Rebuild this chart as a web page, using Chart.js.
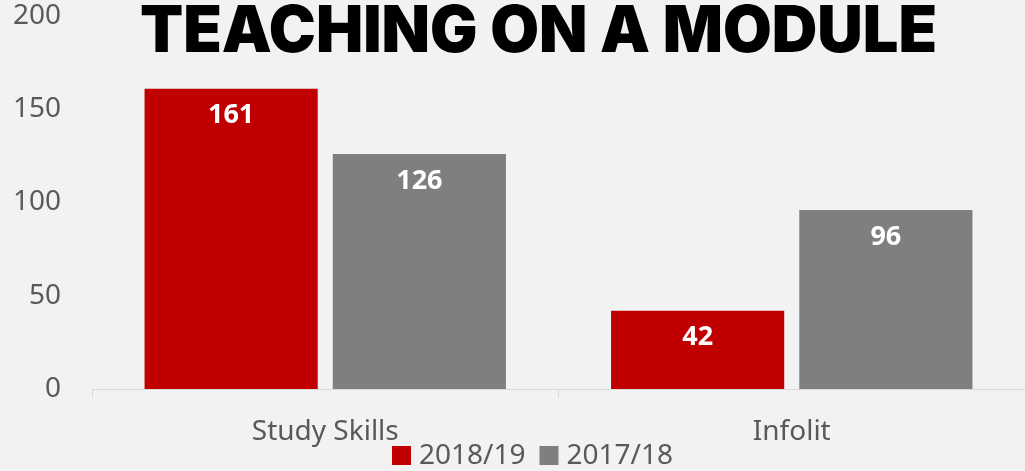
<!DOCTYPE html>
<html>
<head>
<meta charset="utf-8">
<script src="https://cdn.jsdelivr.net/npm/chart.js@4"></script>
<style>
html,body{margin:0;padding:0;background:#f2f2f2;}
#wrap{width:1025px;height:471px;position:relative;}
</style>
</head>
<body>
<div id="wrap"><canvas id="c" width="1025" height="471"></canvas></div>
<script>
const categories = ["Study Skills", "Infolit"];
const series2018 = [161, 42];
const series2017 = [126, 96];
const seriesNames = ["2018/19", "2017/18"];
const yTicks = [0, 50, 100, 150, 200];
const titleText = "TEACHING ON A MODULE";

const FONT = '"Noto Sans"';
const TEXT_COLOR = '#595959';

const bg = {
  id: 'bg',
  beforeDraw(chart) {
    const ctx = chart.ctx;
    ctx.save();
    ctx.fillStyle = '#f2f2f2';
    ctx.fillRect(0, 0, chart.width, chart.height);
    ctx.restore();
  }
};

const titlePlugin = {
  id: 'titleP',
  afterDraw(chart) {
    const ctx = chart.ctx;
    ctx.save();
    ctx.font = '900 64px Inter';
    ctx.fillStyle = '#000000';
    ctx.textAlign = 'center';
    ctx.textBaseline = 'alphabetic';
    ctx.fillText(titleText, 538.5, 52, 797);
    ctx.restore();
  }
};

const labelsPlugin = {
  id: 'vlabels',
  afterDatasetsDraw(chart) {
    const ctx = chart.ctx;
    ctx.save();
    ctx.font = 'bold 27px ' + FONT;
    ctx.fillStyle = '#ffffff';
    ctx.textAlign = 'center';
    ctx.textBaseline = 'middle';
    chart.data.datasets.forEach((ds, di) => {
      const meta = chart.getDatasetMeta(di);
      meta.data.forEach((bar, i) => {
        ctx.fillText(String(ds.data[i]), bar.x, bar.y + 27);
      });
    });
    ctx.restore();
  }
};

const customLegend = {
  id: 'customLegend',
  afterDraw(chart) {
    const ctx = chart.ctx;
    ctx.save();
    ctx.font = '28px ' + FONT;
    ctx.textBaseline = 'alphabetic';
    ctx.textAlign = 'left';
    const box = 19, gapBox = 8, gapItem = 14;
    const items = chart.data.datasets.map(ds => ({ text: ds.label, color: ds.backgroundColor, w: ctx.measureText(ds.label).width }));
    let total = 0;
    items.forEach((it, i) => { total += box + gapBox + it.w + (i < items.length - 1 ? gapItem : 0); });
    let x = 532.5 - total / 2;
    const baseline = 464;
    items.forEach(it => {
      ctx.fillStyle = it.color;
      ctx.fillRect(x, 446, box, box);
      x += box + gapBox;
      ctx.fillStyle = TEXT_COLOR;
      ctx.fillText(it.text, x, baseline);
      x += it.w + gapItem;
    });
    ctx.restore();
  }
};

new Chart(document.getElementById('c'), {
  type: 'bar',
  data: {
    labels: categories,
    datasets: [
      { label: seriesNames[0], data: series2018, backgroundColor: '#c00000', borderWidth: 0 },
      { label: seriesNames[1], data: series2017, backgroundColor: '#7f7f7f', borderWidth: 0 }
    ]
  },
  options: {
    responsive: false,
    animation: false,
    devicePixelRatio: 1,
    categoryPercentage: 0.807,
    barPercentage: 0.92,
    layout: { padding: { left: 14, right: -3, top: 2, bottom: 0 } },
    plugins: {
      title: { display: false },
      tooltip: { enabled: false },
      legend: { display: false }
    },
    scales: {
      x: {
        afterFit(scale) { scale.height = 82; },
        grid: { display: true, drawOnChartArea: false, drawTicks: true, tickLength: 9, color: '#d9d9d9', offset: true },
        border: { display: true, color: '#d9d9d9', width: 1 },
        ticks: { font: { family: FONT, size: 28 }, color: TEXT_COLOR, padding: 17 }
      },
      y: {
        min: 0, max: 200,
        afterBuildTicks(scale) { scale.ticks = yTicks.map(v => ({ value: v })); },
        afterFit(scale) { scale.width = 78; scale.paddingTop = 16; scale.paddingBottom = 0; },
        grid: { display: false, drawTicks: false },
        border: { display: false },
        ticks: { font: { family: FONT, size: 28 }, color: TEXT_COLOR, padding: 31 }
      }
    }
  },
  plugins: [bg, titlePlugin, labelsPlugin, customLegend]
});
</script>
</body>
</html>
